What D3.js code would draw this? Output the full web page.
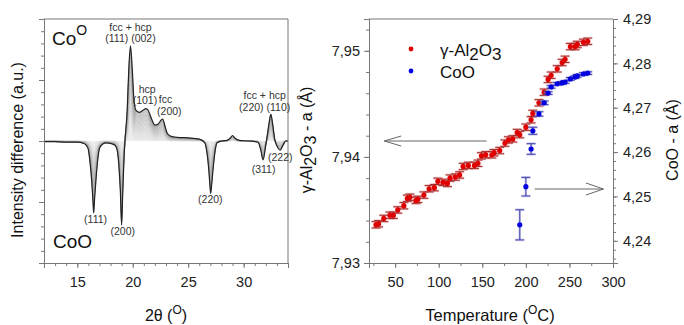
<!DOCTYPE html>
<html><head><meta charset="utf-8">
<script src="https://cdn.jsdelivr.net/npm/d3@7"></script>
<style>body{margin:0;background:#fff}svg{display:block}text{font-family:"Liberation Sans",Arial,sans-serif}</style>
</head><body>
<svg id="c" width="684" height="325"></svg>
<script>
// ---------- DATA ----------
// Left panel: final difference pattern (2theta, intensity)
const twoTheta = [12.0,13.0,14.0,15.0,15.6,15.85,16.0,16.15,16.3,16.42,16.48,16.56,16.7,16.85,17.0,17.3,17.6,18.0,18.4,18.6,18.75,18.88,19.0,19.1,19.2,19.3,19.5,19.65,19.8,19.95,20.1,20.3,20.6,20.9,21.2,21.4,21.7,22.0,22.3,22.55,22.7,22.9,23.1,23.4,24.0,25.0,26.0,26.5,26.7,26.85,26.97,27.03,27.1,27.25,27.4,27.6,28.0,28.5,28.8,29.0,29.2,29.6,30.5,31.3,31.55,31.75,31.95,32.1,32.3,32.45,32.6,32.8,33.0,33.3,33.55,33.8,34.0];
const diffFinal = [-0.01,-0.01,-0.02,-0.02,-0.04,-0.08,-0.14,-0.35,-0.65,-1.0,-1.18,-0.95,-0.6,-0.3,-0.12,-0.05,-0.03,-0.04,-0.07,-0.15,-0.4,-0.8,-1.38,-0.85,-0.35,0.0,0.5,1.2,1.56,1.2,0.7,0.5,0.47,0.5,0.53,0.5,0.36,0.26,0.28,0.34,0.36,0.25,0.13,0.08,0.06,0.05,0.03,-0.03,-0.2,-0.45,-0.75,-0.86,-0.75,-0.45,-0.2,-0.03,0.0,0.01,0.05,0.09,0.05,0.01,0.0,-0.02,-0.15,-0.31,-0.12,0.05,0.3,0.44,0.3,0.03,-0.08,-0.15,-0.07,0.0,0.0];
const scanFractions = [0.04,0.08,0.12,0.16,0.2,0.24,0.28,0.32,0.36,0.4,0.44,0.48,0.52,0.56,0.6,0.64,0.68,0.72,0.76,0.8,0.84,0.88,0.92,0.96];
const xTicksLeft = [15,20,25,30];

// Right panel
const tempAl = [28,31,37,44,48,53,60,64,67,74,76,83,89,95,99,105,110,113,119,124,128,134,141,145,149,154,161,163.5,170,176,180,185,190,193,200,206,208,215,221,225.5,229,236,241.6,245,251,256.5,259,266,271];
const latticeAl = [7.9336,7.9337,7.9342,7.9345,7.9345,7.9350,7.9354,7.9361,7.9362,7.9359,7.9360,7.9364,7.9370,7.9371,7.9377,7.9376,7.9375,7.9380,7.9381,7.9383,7.9391,7.9392,7.9392,7.9394,7.9401,7.9402,7.9402,7.9404,7.9406,7.9413,7.9416,7.9417,7.9423,7.9421,7.9428,7.9435,7.9441,7.9451,7.9461,7.9473,7.9477,7.9483,7.9489,7.9492,7.9504,7.9504,7.9506,7.9508,7.9509];
const errAl = 0.0003;
const tempCo = [193,200,206,208,215,221,225.5,229,236,241.6,245,251,256.5,259,266,271];
const latticeCo = [4.2436,4.2522,4.2607,4.2648,4.2686,4.2711,4.2733,4.2747,4.2754,4.2756,4.2758,4.2765,4.2769,4.2772,4.2776,4.2778];
const errCo = [0.0034,0.0021,0.0012,0.0008,0.0005,0.0004,0.0003,0.0003,0.0003,0.0003,0.0003,0.0003,0.0003,0.0003,0.0003,0.0003];
const xTicksRight = [50,100,150,200,250,300];
const yTicksAl = [7.93,7.94,7.95];
const yTicksCo = [4.24,4.25,4.26,4.27,4.28,4.29];

// ---------- DRAW ----------
const svg = d3.select("#c");
const axisCol = "#777", txtCol = "#222";
const comma = v => d3.format(".2f")(v).replace(".", ",");

// ===== Left panel =====
const xL = d3.scaleLinear([12,34],[44,288]);
const yL = d3.scaleLinear([-2,2],[263,19]);
const gL = svg.append("g");
const pts = twoTheta.map((t,i)=>[t,diffFinal[i]]);
const line = f => d3.line().x(d=>xL(d[0])).y(d=>yL(d[1]*f)).curve(d3.curveMonotoneX);
gL.append("path").datum(pts)
  .attr("d", d3.area().x(d=>xL(d[0])).y0(yL(0)).y1(d=>yL(d[1])).curve(d3.curveMonotoneX))
  .attr("fill","#efefef");
const grayScale = d3.scaleLinear([0,1],["#e8e8e8","#9a9a9a"]);
scanFractions.forEach(f=>{
  gL.append("path").datum(pts).attr("d", line(f)).attr("fill","none")
    .attr("stroke", grayScale(f)).attr("stroke-width",0.7);
});
gL.append("path").datum(pts).attr("d", line(1)).attr("fill","none")
  .attr("stroke","#222").attr("stroke-width",1.2);

gL.append("g").attr("transform",`translate(0,${yL(-2)})`)
  .call(d3.axisBottom(xL).tickValues(xTicksLeft).tickSize(5).tickPadding(9).tickFormat(d3.format("d")));
gL.append("g").attr("transform",`translate(0,${yL(-2)})`)
  .call(d3.axisBottom(xL).tickValues(d3.range(12,35,1)).tickSize(3).tickFormat(""));
gL.append("g").attr("transform",`translate(${xL(12)},0)`)
  .call(d3.axisLeft(yL).tickValues([-2,-1,0,1,2]).tickSize(5).tickFormat(""));
gL.append("g").attr("transform",`translate(${xL(12)},0)`)
  .call(d3.axisLeft(yL).tickValues(d3.range(-20,21,2).map(v=>v/10)).tickSize(3).tickFormat(""));
gL.append("line").attr("x1",xL(12)).attr("x2",xL(34)).attr("y1",yL(2)).attr("y2",yL(2)).attr("stroke",axisCol);
gL.append("line").attr("x1",xL(34)).attr("x2",xL(34)).attr("y1",yL(2)).attr("y2",yL(-2)).attr("stroke",axisCol);

const annL = [
  {t:"fcc + hcp", x:19.8, y:1.81},{t:"(111) (002)", x:19.8, y:1.62},
  {t:"hcp", x:21.3, y:0.79},{t:"(101)", x:21.1, y:0.61},
  {t:"fcc", x:22.95, y:0.62},{t:"(200)", x:23.3, y:0.43},
  {t:"fcc + hcp", x:31.9, y:0.69},{t:"(220) (110)", x:31.9, y:0.49},
  {t:"(111)", x:16.65, y:-1.35},{t:"(200)", x:19.1, y:-1.54},
  {t:"(220)", x:27.0, y:-1.02},{t:"(311)", x:31.8, y:-0.52},{t:"(222)", x:33.3, y:-0.33}
];
gL.selectAll("text.ann").data(annL).join("text").attr("class","ann")
  .attr("x",d=>xL(d.x)).attr("y",d=>yL(d.y)).attr("text-anchor","middle")
  .attr("font-size",10.5).attr("fill","#333").text(d=>d.t);
const co = gL.append("text").attr("x",52).attr("y",45).attr("font-size",19).attr("fill","#111");
co.append("tspan").text("Co");
co.append("tspan").attr("dy",-10).attr("font-size",14).text("O");
gL.append("text").attr("x",53).attr("y",248).attr("font-size",19).attr("fill","#111").text("CoO");

// ===== Right panel =====
const xT = d3.scaleLinear([20,300],[369,613]);
const yA = d3.scaleLinear([7.93,7.953],[263,19]);
const yC = d3.scaleLinear([4.235,4.29],[263,19]);
const gR = svg.append("g");
gR.append("g").attr("transform",`translate(0,263)`)
  .call(d3.axisBottom(xT).tickValues(xTicksRight).tickSize(5).tickPadding(9).tickFormat(d3.format("d")));
gR.append("g").attr("transform",`translate(0,263)`)
  .call(d3.axisBottom(xT).tickValues(d3.range(25,301,25)).tickSize(3).tickFormat(""));
gR.append("g").attr("transform",`translate(369,0)`)
  .call(d3.axisLeft(yA).tickValues(yTicksAl).tickSize(5).tickPadding(4).tickFormat(comma));
gR.append("g").attr("transform",`translate(369,0)`)
  .call(d3.axisLeft(yA).tickValues(d3.range(7930,7953,2).map(v=>v/1000)).tickSize(3).tickFormat(""));
gR.append("g").attr("transform",`translate(613,0)`)
  .call(d3.axisRight(yC).tickValues(yTicksCo).tickSize(5).tickPadding(5).tickFormat(comma));
gR.append("g").attr("transform",`translate(613,0)`)
  .call(d3.axisRight(yC).tickValues(d3.range(4236,4291,2).map(v=>v/1000)).tickSize(3).tickFormat(""));
gR.append("line").attr("x1",369).attr("x2",613).attr("y1",19).attr("y2",19).attr("stroke",axisCol);

svg.selectAll(".domain").attr("stroke",axisCol);
svg.selectAll(".tick line").attr("stroke",axisCol);
svg.selectAll(".tick text").attr("font-size",14.5).attr("fill",txtCol)
  .attr("font-family","'Liberation Sans',Arial,sans-serif");

const arr = gR.append("g").attr("stroke","#666").attr("fill","none").attr("stroke-width",1);
arr.append("line").attr("x1",xT(155)).attr("x2",xT(37.5)).attr("y1",141).attr("y2",141);
arr.append("polyline").attr("points",`${xT(57)},136 ${xT(37.5)},141 ${xT(57)},146`);
arr.append("line").attr("x1",xT(210)).attr("x2",xT(289)).attr("y1",189).attr("y2",189);
arr.append("polyline").attr("points",`${xT(269)},183 ${xT(289)},189 ${xT(269)},195`);

const al = tempAl.map((t,i)=>({t, v:latticeAl[i]}));
const co2 = tempCo.map((t,i)=>({t, v:latticeCo[i], e:errCo[i]}));
function errBars(g, data, ys, err, col, halo){
  const eb = g.append("g");
  data.forEach(d=>{
    const e = err(d), x = xT(d.t), y1 = ys(d.v+e), y2 = ys(d.v-e);
    [[halo,2.5],[col,0.9]].forEach(([c,w])=>{
      eb.append("line").attr("x1",x).attr("x2",x).attr("y1",y1).attr("y2",y2).attr("stroke",c).attr("stroke-width",w);
      eb.append("line").attr("x1",x-4.5).attr("x2",x+4.5).attr("y1",y1).attr("y2",y1).attr("stroke",c).attr("stroke-width",w);
      eb.append("line").attr("x1",x-4.5).attr("x2",x+4.5).attr("y1",y2).attr("y2",y2).attr("stroke",c).attr("stroke-width",w);
    });
  });
}
errBars(gR, al, yA, ()=>errAl, "#9b2020", "rgba(220,120,120,0.45)");
gR.selectAll("circle.al").data(al).join("circle").attr("class","al")
  .attr("cx",d=>xT(d.t)).attr("cy",d=>yA(d.v)).attr("r",2.6).attr("fill","#e00000");
errBars(gR, co2, yC, d=>d.e, "#3a3aa0", "rgba(130,130,220,0.45)");
gR.selectAll("circle.co").data(co2).join("circle").attr("class","co")
  .attr("cx",d=>xT(d.t)).attr("cy",d=>yC(d.v)).attr("r",2.6).attr("fill","#0000e0");

gR.append("circle").attr("cx",411).attr("cy",49).attr("r",2.4).attr("fill","#e00000");
gR.append("circle").attr("cx",411).attr("cy",71).attr("r",2.4).attr("fill","#0000e0");
const lg1 = gR.append("text").attr("x",440).attr("y",56).attr("font-size",17).attr("fill","#111");
lg1.append("tspan").text("γ-Al");
lg1.append("tspan").attr("dy",4).text("2");
lg1.append("tspan").attr("dy",-4).text("O");
lg1.append("tspan").attr("dy",4).text("3");
gR.append("text").attr("x",440).attr("y",78).attr("font-size",17).attr("fill","#111").text("CoO");

svg.append("text").attr("transform","translate(23,150) rotate(-90)").attr("text-anchor","middle")
  .attr("font-size",16).attr("fill","#111").text("Intensity difference (a.u.)");
const t2 = svg.append("text").attr("x",166).attr("y",321).attr("text-anchor","middle").attr("font-size",16).attr("fill","#111");
t2.append("tspan").text("2θ (");
t2.append("tspan").attr("dy",-7).attr("font-size",12).text("O");
t2.append("tspan").attr("dy",7).text(")");
const tt = svg.append("text").attr("x",490).attr("y",321).attr("text-anchor","middle").attr("font-size",16.5).attr("fill","#111");
tt.append("tspan").text("Temperature (");
tt.append("tspan").attr("dy",-7).attr("font-size",12).text("O");
tt.append("tspan").attr("dy",7).text("C)");
const ya = svg.append("text").attr("transform","translate(312,140) rotate(-90)").attr("text-anchor","middle").attr("font-size",16).attr("fill","#111");
ya.append("tspan").text("γ-Al");
ya.append("tspan").attr("dy",4).text("2");
ya.append("tspan").attr("dy",-4).text("O");
ya.append("tspan").attr("dy",4).text("3");
ya.append("tspan").attr("dy",-4).text(" - a (Å)");
svg.append("text").attr("transform","translate(678,140) rotate(-90)").attr("text-anchor","middle")
  .attr("font-size",16).attr("fill","#111").text("CoO - a (Å)");
</script>
</body></html>
